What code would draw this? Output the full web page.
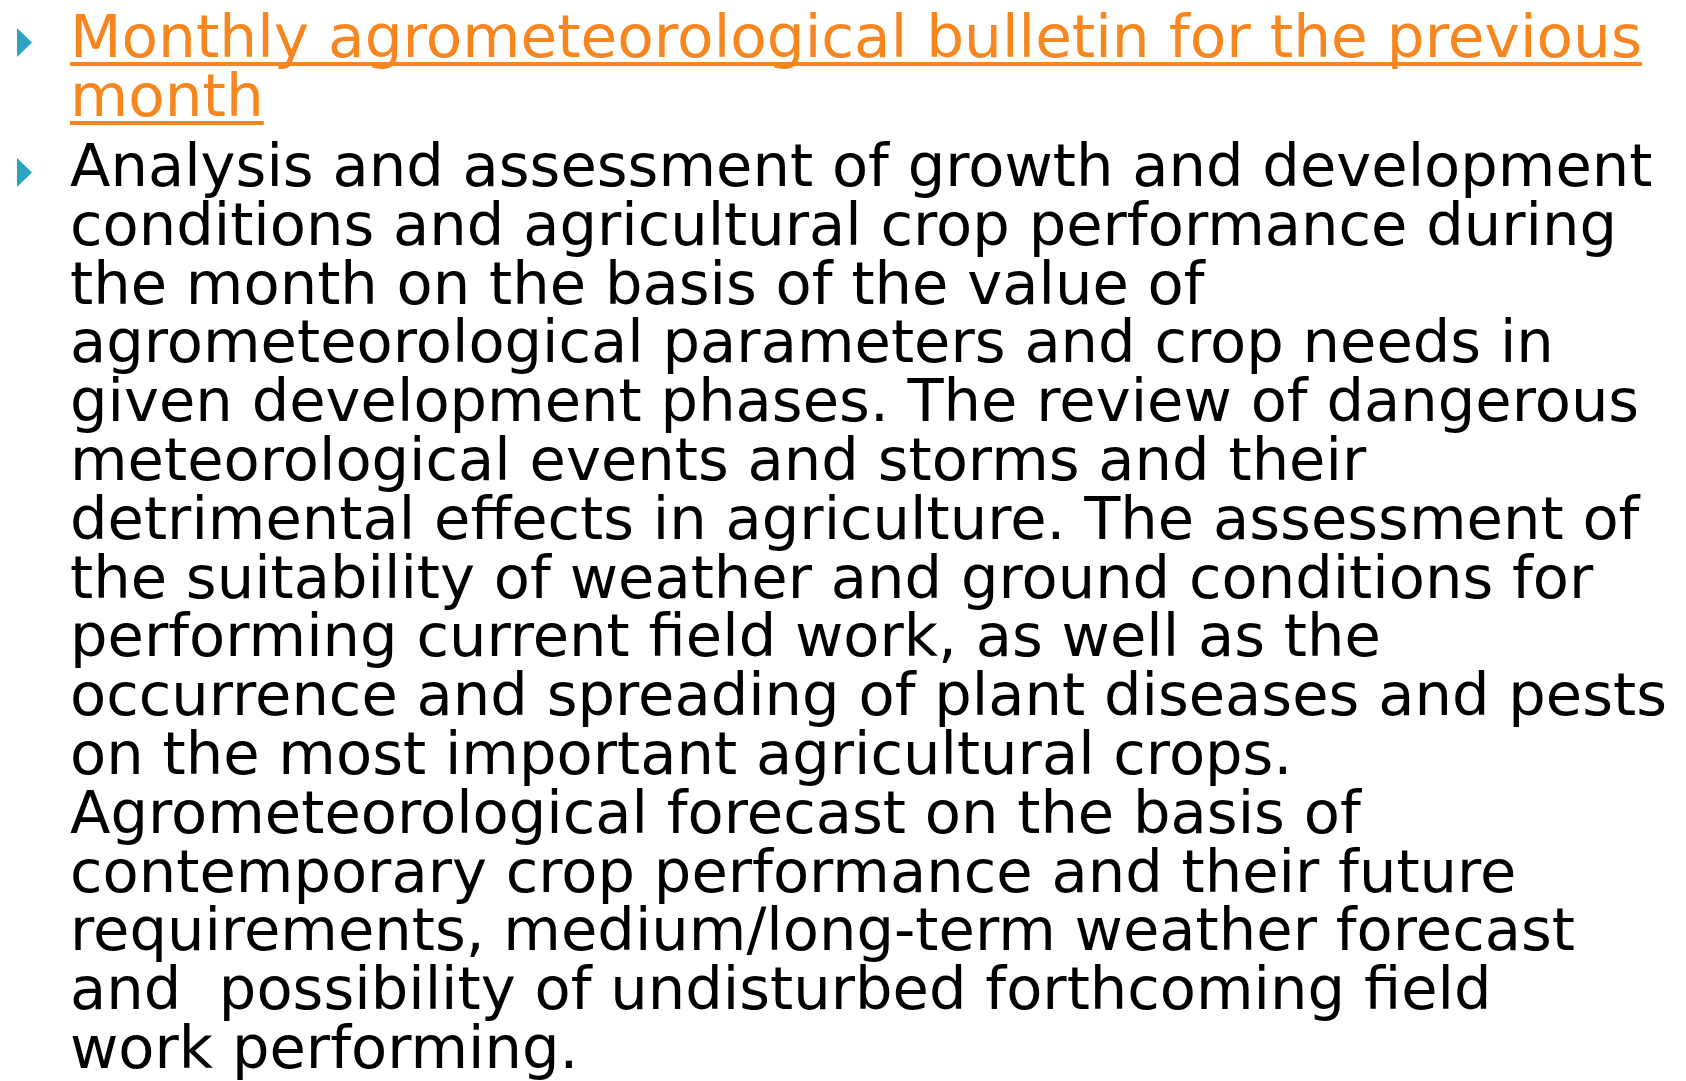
<!DOCTYPE html>
<html>
<head>
<meta charset="utf-8">
<script src="https://cdn.jsdelivr.net/npm/chart.js@4.4.1/dist/chart.umd.min.js"></script>
<style>
    html, body {
        margin: 0;
        padding: 0;
        background: #ffffff;
        width: 1686px;
        height: 1081px;
        overflow: hidden;
    }
    .slide {
        position: relative;
        width: 1686px;
        height: 1081px;
        font-family: "DejaVu Sans", sans-serif;
        font-size: 59px;
    }
    .para {
        position: absolute;
        left: 70px;
        line-height: 58.8px;
    }
    .line {
        white-space: pre;
        height: 58.8px;
        transform-origin: left center;
    }
    .line span {
        display: inline-block;
        height: 58.8px;
        line-height: 58.8px;
        overflow: visible;
    }
    .title {
        color: #f7861f;
        top: 8px;
    }
    .title .line span {
        text-decoration: underline;
        text-decoration-thickness: 4px;
        text-underline-offset: 5px;
        text-decoration-skip-ink: none;
    }
    .bodytext {
        color: #000000;
        top: 137px;
    }
    .bullet {
        position: absolute;
        left: 17px;
        width: 15px;
        height: 29px;
        background: #2ca3c0;
        clip-path: polygon(0 0, 100% 50%, 0 100%);
    }
</style>
</head>
<body>
<div class="slide" id="slide">
    <div class="bullet" style="top: 28px;"></div>
    <div class="bullet" style="top: 158px;"></div>
    <div class="para title" id="title"></div>
    <div class="para bodytext" id="bodytext"></div>
</div>
<script>
// Text of the slide, one entry per rendered line
const titleLines = [
    'Monthly agrometeorological bulletin for the previous',
    'month'
];

const bodyLines = [
    'Analysis and assessment of growth and development',
    'conditions and agricultural crop performance during',
    'the month on the basis of the value of',
    'agrometeorological parameters and crop needs in',
    'given development phases. The review of dangerous',
    'meteorological events and storms and their',
    'detrimental effects in agriculture. The assessment of',
    'the suitability of weather and ground conditions for',
    'performing current field work, as well as the',
    'occurrence and spreading of plant diseases and pests',
    'on the most important agricultural crops.',
    'Agrometeorological forecast on the basis of',
    'contemporary crop performance and their future',
    'requirements, medium/long-term weather forecast',
    'and  possibility of undisturbed forthcoming field',
    'work performing.'
];

function fillLines(container, lines) {
    const els = [];
    lines.forEach(text => {
        const lineDiv = document.createElement('div');
        lineDiv.className = 'line';
        const span = document.createElement('span');
        span.textContent = text;
        lineDiv.appendChild(span);
        container.appendChild(lineDiv);
        els.push(span);
    });
    return els;
}

const titleSpans = fillLines(document.getElementById('title'), titleLines);
const bodySpans = fillLines(document.getElementById('bodytext'), bodyLines);

// squeeze the wide font so lines end where the original ones do
function squeeze(spans, targetWidth) {
    const longest = Math.max(...spans.map(s => s.getBoundingClientRect().width));
    const scale = targetWidth / longest;
    spans.forEach(s => {
        s.parentNode.style.transform = 'scaleX(' + scale + ')';
    });
}

squeeze(bodySpans, 1667 - 70);
squeeze(titleSpans, 1642 - 70);
</script>
</body>
</html>
